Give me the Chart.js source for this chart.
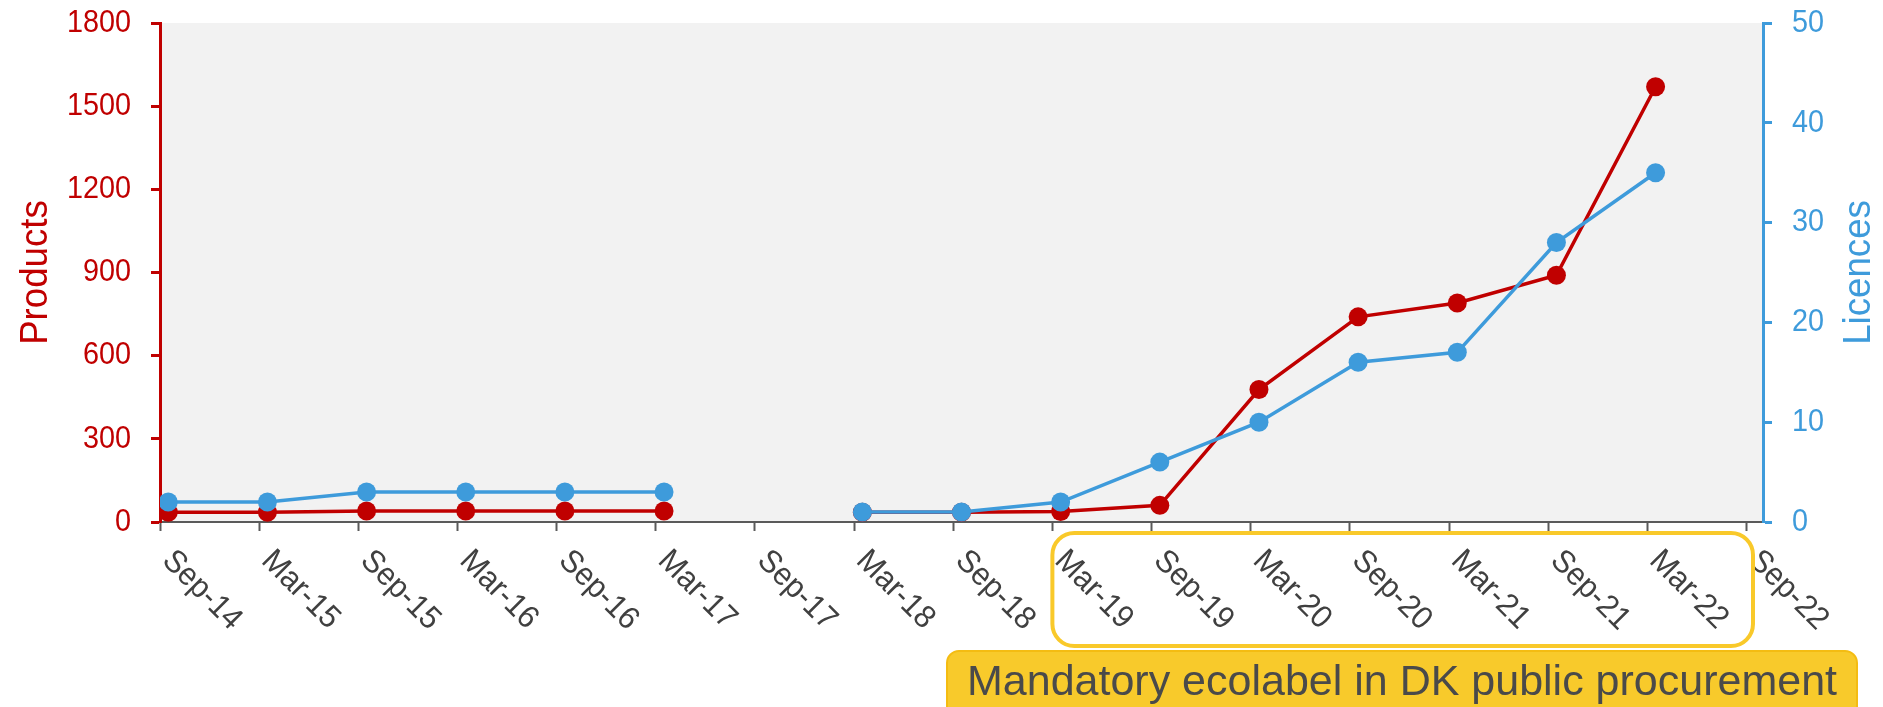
<!DOCTYPE html>
<html>
<head>
<meta charset="utf-8">
<script src="https://cdn.jsdelivr.net/npm/chart.js@4.4.0/dist/chart.umd.min.js"></script>
<style>
  html, body { margin: 0; padding: 0; background: #fff; }
  #wrap { width: 1883px; height: 707px; }
</style>
</head>
<body>
<div id="wrap"><canvas id="chart"></canvas></div>
<script>
// --- DATA ---
const POINT_DATES = ['2014-09-16', '2015-03-16', '2015-09-16', '2016-03-16', '2016-09-16', '2017-03-16', '2017-09-16',
                     '2018-03-16', '2018-09-16', '2019-03-16', '2019-09-16', '2020-03-16', '2020-09-16', '2021-03-16',
                     '2021-09-16', '2022-03-16'];
const PRODUCTS = [35, 35, 40, 40, 40, 40, null, 35, 35, 38, 60, 478, 740, 790, 890, 1570];
const LICENCES = [2, 2, 3, 3, 3, 3, null, 1, 1, 2, 6, 10, 16, 17, 28, 35];
const TICK_LABELS = ['Sep-14', 'Mar-15', 'Sep-15', 'Mar-16', 'Sep-16', 'Mar-17', 'Sep-17', 'Mar-18', 'Sep-18',
                     'Mar-19', 'Sep-19', 'Mar-20', 'Sep-20', 'Mar-21', 'Sep-21', 'Mar-22', 'Sep-22'];
const NOTE = 'Mandatory ecolabel in DK public procurement';

const RED = '#C00000';
const BLUE = '#3E9BDB';
const FONT = '"Liberation Sans", Arial, sans-serif';

// months since Sep-14
function monthPos(iso) {
    const [y, m, d] = iso.split('-').map(Number);
    return (y - 2014) * 12 + (m - 9) + (d - 1) / 30;
}

const toPoints = vals => vals.map((v, i) => ({ x: monthPos(POINT_DATES[i]), y: v }));

// --- PLUGINS ---
const plotBg = {
    id: 'plotBg',
    beforeDraw(chart) {
        const { ctx, chartArea: a } = chart;
        ctx.save();
        ctx.fillStyle = '#F2F2F2';
        ctx.fillRect(a.left, a.top, a.right - a.left, a.bottom - a.top);
        ctx.restore();
    }
};

function roundRect(ctx, x, y, w, h, r) {
    ctx.beginPath();
    ctx.moveTo(x + r, y);
    ctx.arcTo(x + w, y, x + w, y + h, r);
    ctx.arcTo(x + w, y + h, x, y + h, r);
    ctx.arcTo(x, y + h, x, y, r);
    ctx.arcTo(x, y, x + w, y, r);
    ctx.closePath();
}

// narrow-ish text like the original
function squeezed(ctx, txt, x, y, sx) {
    ctx.save();
    ctx.translate(x, y);
    ctx.scale(sx, 1);
    ctx.fillText(txt, 0, 0);
    ctx.restore();
}

const extras = {
    id: 'extras',
    afterDraw(chart) {
        const { ctx, chartArea: a } = chart;
        const xs = chart.scales.x, yl = chart.scales.y, yr = chart.scales.y1;
        ctx.save();

        // y tick labels
        ctx.font = '32px ' + FONT;
        ctx.textBaseline = 'middle';
        ctx.fillStyle = RED;
        ctx.textAlign = 'right';
        yl.ticks.forEach(t => squeezed(ctx, String(t.value), 131, yl.getPixelForValue(t.value), 0.9));
        ctx.fillStyle = BLUE;
        ctx.textAlign = 'left';
        yr.ticks.forEach(t => squeezed(ctx, String(t.value), 1792, yr.getPixelForValue(t.value), 0.9));

        // rotated x labels
        ctx.font = '32px ' + FONT;
        ctx.fillStyle = '#404040';
        ctx.textAlign = 'left';
        ctx.textBaseline = 'alphabetic';
        xs.ticks.forEach((t, i) => {
            const px = xs.getPixelForValue(t.value);
            ctx.save();
            ctx.translate(px + 1, a.bottom + 40);
            ctx.rotate(Math.PI / 4);
            ctx.scale(0.95, 1);
            ctx.fillText(TICK_LABELS[i], 0, 0);
            ctx.restore();
        });

        // axis titles
        ctx.font = '39px ' + FONT;
        ctx.textAlign = 'center';
        ctx.textBaseline = 'middle';
        const midY = (a.top + a.bottom) / 2;
        [['Products', RED, 36], ['Licences', BLUE, 1859]].forEach(([txt, col, x]) => {
            ctx.save();
            ctx.fillStyle = col;
            ctx.translate(x, midY);
            ctx.rotate(-Math.PI / 2);
            ctx.scale(0.94, 1);
            ctx.fillText(txt, 0, 0);
            ctx.restore();
        });

        // highlight around Mar-19 .. Mar-22 labels
        const left = xs.getPixelForValue(54);
        roundRect(ctx, left, 533, 1753 - left, 113, 22);
        ctx.lineWidth = 4;
        ctx.strokeStyle = '#F9C92A';
        ctx.stroke();

        // note box
        roundRect(ctx, 947, 651, 910, 80, 12);
        ctx.fillStyle = '#F8CA2B';
        ctx.fill();
        ctx.lineWidth = 2;
        ctx.strokeStyle = '#F4BC12';
        ctx.stroke();

        ctx.font = '43px ' + FONT;
        ctx.fillStyle = '#4A4A4A';
        ctx.textAlign = 'center';
        ctx.textBaseline = 'alphabetic';
        ctx.fillText(NOTE, 1402, 695);

        ctx.restore();
    }
};

// --- CHART ---
new Chart(document.getElementById('chart'), {
    type: 'line',
    data: {
        datasets: [{
            label: 'Licences',
            data: toPoints(LICENCES),
            yAxisID: 'y1',
            borderColor: BLUE,
            backgroundColor: BLUE,
            borderWidth: 3.5,
            pointRadius: 9.5,
            pointBorderWidth: 0,
            pointBackgroundColor: BLUE,
            tension: 0,
            order: 0
        }, {
            label: 'Products',
            data: toPoints(PRODUCTS),
            yAxisID: 'y',
            borderColor: RED,
            backgroundColor: RED,
            borderWidth: 3.5,
            pointRadius: 9.5,
            pointBorderWidth: 0,
            pointBackgroundColor: RED,
            tension: 0,
            order: 1
        }]
    },
    options: {
        responsive: true,
        maintainAspectRatio: false,
        animation: false,
        devicePixelRatio: 1,
        layout: { padding: { top: 23, left: 0, right: 0, bottom: 0 } },
        plugins: { legend: { display: false }, tooltip: { enabled: false } },
        scales: {
            x: {
                type: 'linear',
                min: 0,
                max: 97,
                afterBuildTicks: s => { s.ticks = TICK_LABELS.map((l, i) => ({ value: i * 6 })); },
                afterFit: s => { s.height = 185; },
                ticks: { display: false },
                grid: { drawOnChartArea: false, drawTicks: true, tickLength: 9, tickColor: '#5A5A5A', tickWidth: 2 },
                border: { color: '#5A5A5A', width: 2 }
            },
            y: {
                position: 'left',
                min: 0,
                max: 1800,
                afterFit: s => { s.width = 160; },
                ticks: { display: false, stepSize: 300 },
                grid: { drawOnChartArea: false, drawTicks: true, tickLength: 9, tickColor: RED, tickWidth: 3 },
                border: { color: RED, width: 3 }
            },
            y1: {
                position: 'right',
                min: 0,
                max: 50,
                afterFit: s => { s.width = 120; },
                ticks: { display: false, stepSize: 10 },
                grid: { drawOnChartArea: false, drawTicks: true, tickLength: 9, tickColor: BLUE, tickWidth: 3 },
                border: { color: BLUE, width: 3 }
            }
        }
    },
    plugins: [plotBg, extras]
});
</script>
</body>
</html>
